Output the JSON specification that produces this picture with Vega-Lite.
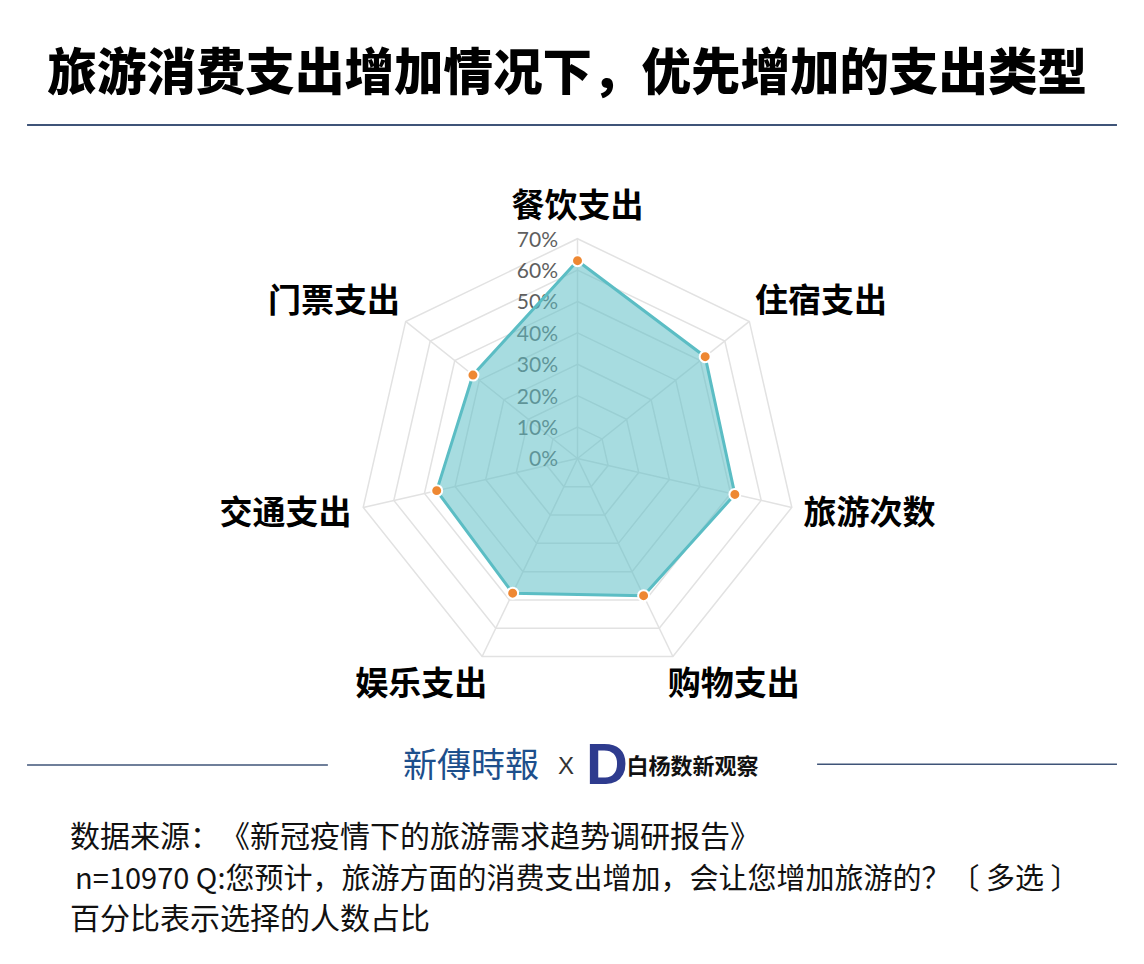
{
  "$schema": "https://vega.github.io/schema/vega-lite/v6.json",
  "width": 1144,
  "height": 964,
  "autosize": {"type": "fit", "contains": "padding"},
  "padding": 0,
  "background": "white",
  "config": {"view": {"stroke": null}, "text": {"font": "Noto Sans CJK SC"}},
  "datasets": {
    "radar": [
      {"cat": "餐饮支出", "idx": 0, "value": 63},
      {"cat": "住宿支出", "idx": 1, "value": 52},
      {"cat": "旅游次数", "idx": 2, "value": 51.4},
      {"cat": "购物支出", "idx": 3, "value": 48.5},
      {"cat": "娱乐支出", "idx": 4, "value": 47.6},
      {"cat": "交通支出", "idx": 5, "value": 46},
      {"cat": "门票支出", "idx": 6, "value": 42.6}
    ],
    "rings": [
      {"level": 10, "idx": [0, 1, 2, 3, 4, 5, 6]},
      {"level": 20, "idx": [0, 1, 2, 3, 4, 5, 6]},
      {"level": 30, "idx": [0, 1, 2, 3, 4, 5, 6]},
      {"level": 40, "idx": [0, 1, 2, 3, 4, 5, 6]},
      {"level": 50, "idx": [0, 1, 2, 3, 4, 5, 6]},
      {"level": 60, "idx": [0, 1, 2, 3, 4, 5, 6]},
      {"level": 70, "idx": [0, 1, 2, 3, 4, 5, 6]}
    ],
    "ticks": [
      {"level": 0, "label": "0%"},
      {"level": 10, "label": "10%"},
      {"level": 20, "label": "20%"},
      {"level": 30, "label": "30%"},
      {"level": 40, "label": "40%"},
      {"level": 50, "label": "50%"},
      {"level": 60, "label": "60%"},
      {"level": 70, "label": "70%"}
    ]
  },
  "layer": [
    {
      "data": {"name": "rings"},
      "transform": [
        {"flatten": ["idx"]},
        {"calculate": "datum.idx * 2 * PI / 7", "as": "a"},
        {"calculate": "datum.level * sin(datum.a)", "as": "x"},
        {"calculate": "datum.level * cos(datum.a)", "as": "y"}
      ],
      "mark": {"type": "line", "interpolate": "linear-closed", "stroke": "#e2e2e2", "strokeWidth": 1.5},
      "encoding": {
        "x": {"field": "x", "type": "quantitative", "scale": {"domain": [-183.92, 180.41], "nice": false, "zero": false}, "axis": null},
        "y": {"field": "y", "type": "quantitative", "scale": {"domain": [-160.99, 146.02], "nice": false, "zero": false}, "axis": null},
        "detail": {"field": "level", "type": "nominal"},
        "order": {"field": "idx", "type": "quantitative"}
      }
    },
    {
      "data": {"name": "radar"},
      "transform": [
        {"calculate": "datum.idx * 2 * PI / 7", "as": "a"},
        {"calculate": "70 * sin(datum.a)", "as": "ex"},
        {"calculate": "70 * cos(datum.a)", "as": "ey"},
        {"calculate": "0", "as": "o"}
      ],
      "mark": {"type": "rule", "stroke": "#e2e2e2", "strokeWidth": 1.5},
      "encoding": {
        "x": {"field": "o", "type": "quantitative", "scale": {"domain": [-183.92, 180.41], "nice": false, "zero": false}, "axis": null},
        "y": {"field": "o", "type": "quantitative", "scale": {"domain": [-160.99, 146.02], "nice": false, "zero": false}, "axis": null},
        "x2": {"field": "ex"},
        "y2": {"field": "ey"}
      }
    },
    {
      "data": {"name": "ticks"},
      "mark": {"type": "text", "align": "right", "baseline": "middle", "dy": 2, "font": "Lato", "fontSize": 21, "color": "#5f5f5f"},
      "encoding": {
        "x": {"datum": -6.2, "type": "quantitative", "scale": {"domain": [-183.92, 180.41], "nice": false, "zero": false}, "axis": null},
        "y": {"field": "level", "type": "quantitative", "scale": {"domain": [-160.99, 146.02], "nice": false, "zero": false}, "axis": null},
        "text": {"field": "label"}
      }
    },
    {
      "data": {"name": "radar"},
      "transform": [
        {"calculate": "datum.idx * 2 * PI / 7", "as": "a"},
        {"calculate": "datum.value * sin(datum.a)", "as": "x"},
        {"calculate": "datum.value * cos(datum.a)", "as": "y"}
      ],
      "mark": {"type": "line", "interpolate": "linear-closed", "fill": "#5ec0c6", "fillOpacity": 0.55, "stroke": "#5bbdc4", "strokeWidth": 3},
      "encoding": {
        "x": {"field": "x", "type": "quantitative", "scale": {"domain": [-183.92, 180.41], "nice": false, "zero": false}, "axis": null},
        "y": {"field": "y", "type": "quantitative", "scale": {"domain": [-160.99, 146.02], "nice": false, "zero": false}, "axis": null},
        "order": {"field": "idx", "type": "quantitative"}
      }
    },
    {
      "data": {"name": "radar"},
      "transform": [
        {"calculate": "datum.idx * 2 * PI / 7", "as": "a"},
        {"calculate": "datum.value * sin(datum.a)", "as": "x"},
        {"calculate": "datum.value * cos(datum.a)", "as": "y"}
      ],
      "mark": {"type": "point", "filled": true, "fill": "#ee8833", "opacity": 1, "size": 120, "stroke": "white", "strokeWidth": 2},
      "encoding": {
        "x": {"field": "x", "type": "quantitative", "scale": {"domain": [-183.92, 180.41], "nice": false, "zero": false}, "axis": null},
        "y": {"field": "y", "type": "quantitative", "scale": {"domain": [-160.99, 146.02], "nice": false, "zero": false}, "axis": null}
      }
    },
    {
      "data": {"name": "radar"},
      "transform": [
        {"filter": "datum.idx == 0"},
        {"calculate": "datum.idx * 2 * PI / 7", "as": "a"},
        {"calculate": "80 * sin(datum.a)", "as": "x"},
        {"calculate": "80 * cos(datum.a)", "as": "y"}
      ],
      "mark": {"type": "text", "align": "center", "baseline": "middle", "fontSize": 33, "fontWeight": "bold", "color": "#000000"},
      "encoding": {
        "x": {"field": "x", "type": "quantitative", "scale": {"domain": [-183.92, 180.41], "nice": false, "zero": false}, "axis": null},
        "y": {"field": "y", "type": "quantitative", "scale": {"domain": [-160.99, 146.02], "nice": false, "zero": false}, "axis": null},
        "text": {"field": "cat"}
      }
    },
    {
      "data": {"name": "radar"},
      "transform": [
        {"filter": "datum.idx >= 1 && datum.idx <= 3"},
        {"calculate": "datum.idx * 2 * PI / 7", "as": "a"},
        {"calculate": "80 * sin(datum.a) - 6", "as": "x"},
        {"calculate": "80 * cos(datum.a)", "as": "y"}
      ],
      "mark": {"type": "text", "align": "left", "baseline": "middle", "fontSize": 33, "fontWeight": "bold", "color": "#000000"},
      "encoding": {
        "x": {"field": "x", "type": "quantitative", "scale": {"domain": [-183.92, 180.41], "nice": false, "zero": false}, "axis": null},
        "y": {"field": "y", "type": "quantitative", "scale": {"domain": [-160.99, 146.02], "nice": false, "zero": false}, "axis": null},
        "text": {"field": "cat"}
      }
    },
    {
      "data": {"name": "radar"},
      "transform": [
        {"filter": "datum.idx >= 4"},
        {"calculate": "datum.idx * 2 * PI / 7", "as": "a"},
        {"calculate": "80 * sin(datum.a) + 6", "as": "x"},
        {"calculate": "80 * cos(datum.a)", "as": "y"}
      ],
      "mark": {"type": "text", "align": "right", "baseline": "middle", "fontSize": 33, "fontWeight": "bold", "color": "#000000"},
      "encoding": {
        "x": {"field": "x", "type": "quantitative", "scale": {"domain": [-183.92, 180.41], "nice": false, "zero": false}, "axis": null},
        "y": {"field": "y", "type": "quantitative", "scale": {"domain": [-160.99, 146.02], "nice": false, "zero": false}, "axis": null},
        "text": {"field": "cat"}
      }
    },
    {
      "data": {"values": [{}]},
      "mark": {"type": "text", "align": "center", "baseline": "middle", "fontSize": 49.5, "fontWeight": 900, "color": "#000000", "text": "旅游消费支出增加情况下，优先增加的支出类型"},
      "encoding": {
        "x": {"datum": -3.3, "type": "quantitative", "scale": {"domain": [-183.92, 180.41], "nice": false, "zero": false}, "axis": null},
        "y": {"datum": 122.1, "type": "quantitative", "scale": {"domain": [-160.99, 146.02], "nice": false, "zero": false}, "axis": null}
      }
    },
    {
      "data": {"values": [{}]},
      "mark": {"type": "rule", "stroke": "#3f5478", "strokeWidth": 2},
      "encoding": {
        "x": {"datum": -175.3, "type": "quantitative", "scale": {"domain": [-183.92, 180.41], "nice": false, "zero": false}, "axis": null},
        "x2": {"datum": 171.8},
        "y": {"datum": 106.2, "type": "quantitative", "scale": {"domain": [-160.99, 146.02], "nice": false, "zero": false}, "axis": null}
      }
    },
    {
      "data": {"values": [{}]},
      "mark": {"type": "rule", "stroke": "#3f5478", "strokeWidth": 1.5},
      "encoding": {
        "x": {"datum": -175.3, "type": "quantitative", "scale": {"domain": [-183.92, 180.41], "nice": false, "zero": false}, "axis": null},
        "x2": {"datum": -79.5},
        "y": {"datum": -97.6, "type": "quantitative", "scale": {"domain": [-160.99, 146.02], "nice": false, "zero": false}, "axis": null}
      }
    },
    {
      "data": {"values": [{}]},
      "mark": {"type": "rule", "stroke": "#3f5478", "strokeWidth": 1.5},
      "encoding": {
        "x": {"datum": 76.3, "type": "quantitative", "scale": {"domain": [-183.92, 180.41], "nice": false, "zero": false}, "axis": null},
        "x2": {"datum": 171.8},
        "y": {"datum": -97.4, "type": "quantitative", "scale": {"domain": [-160.99, 146.02], "nice": false, "zero": false}, "axis": null}
      }
    },
    {
      "data": {"values": [{}]},
      "mark": {"type": "text", "align": "center", "baseline": "middle", "font": "Noto Sans CJK TC", "fontSize": 34, "color": "#1d4f8c", "text": "新傳時報"},
      "encoding": {
        "x": {"datum": -33.9, "type": "quantitative", "scale": {"domain": [-183.92, 180.41], "nice": false, "zero": false}, "axis": null},
        "y": {"datum": -98.2, "type": "quantitative", "scale": {"domain": [-160.99, 146.02], "nice": false, "zero": false}, "axis": null}
      }
    },
    {
      "data": {"values": [{}]},
      "mark": {"type": "text", "align": "center", "baseline": "middle", "font": "Liberation Sans", "fontSize": 24, "color": "#333333", "text": "X"},
      "encoding": {
        "x": {"datum": -3.7, "type": "quantitative", "scale": {"domain": [-183.92, 180.41], "nice": false, "zero": false}, "axis": null},
        "y": {"datum": -98.2, "type": "quantitative", "scale": {"domain": [-160.99, 146.02], "nice": false, "zero": false}, "axis": null}
      }
    },
    {
      "data": {"values": [{}]},
      "mark": {"type": "text", "align": "center", "baseline": "middle", "font": "Liberation Sans", "fontSize": 58, "fontWeight": "bold", "color": "#2e3b8e", "text": "D"},
      "encoding": {
        "x": {"datum": 9.4, "type": "quantitative", "scale": {"domain": [-183.92, 180.41], "nice": false, "zero": false}, "axis": null},
        "y": {"datum": -98.2, "type": "quantitative", "scale": {"domain": [-160.99, 146.02], "nice": false, "zero": false}, "axis": null}
      }
    },
    {
      "data": {"values": [{}]},
      "mark": {"type": "text", "align": "center", "baseline": "middle", "fontSize": 22, "fontWeight": "bold", "color": "#111111", "text": "白杨数新观察"},
      "encoding": {
        "x": {"datum": 36.6, "type": "quantitative", "scale": {"domain": [-183.92, 180.41], "nice": false, "zero": false}, "axis": null},
        "y": {"datum": -98.2, "type": "quantitative", "scale": {"domain": [-160.99, 146.02], "nice": false, "zero": false}, "axis": null}
      }
    },
    {
      "data": {"values": [{}]},
      "mark": {"type": "text", "align": "left", "baseline": "middle", "fontSize": 30, "color": "#111111", "text": "数据来源：　《新冠疫情下的旅游需求趋势调研报告》"},
      "encoding": {
        "x": {"datum": -161.6, "type": "quantitative", "scale": {"domain": [-183.92, 180.41], "nice": false, "zero": false}, "axis": null},
        "y": {"datum": -120.9, "type": "quantitative", "scale": {"domain": [-160.99, 146.02], "nice": false, "zero": false}, "axis": null}
      }
    },
    {
      "data": {"values": [{}]},
      "mark": {"type": "text", "align": "left", "baseline": "middle", "fontSize": 29, "color": "#111111", "text": "n=10970 Q:您预计，旅游方面的消费支出增加，会让您增加旅游的？〔 多选 〕"},
      "encoding": {
        "x": {"datum": -160.0, "type": "quantitative", "scale": {"domain": [-183.92, 180.41], "nice": false, "zero": false}, "axis": null},
        "y": {"datum": -134.2, "type": "quantitative", "scale": {"domain": [-160.99, 146.02], "nice": false, "zero": false}, "axis": null}
      }
    },
    {
      "data": {"values": [{}]},
      "mark": {"type": "text", "align": "left", "baseline": "middle", "fontSize": 30, "color": "#111111", "text": "百分比表示选择的人数占比"},
      "encoding": {
        "x": {"datum": -161.6, "type": "quantitative", "scale": {"domain": [-183.92, 180.41], "nice": false, "zero": false}, "axis": null},
        "y": {"datum": -146.9, "type": "quantitative", "scale": {"domain": [-160.99, 146.02], "nice": false, "zero": false}, "axis": null}
      }
    }
  ]
}
